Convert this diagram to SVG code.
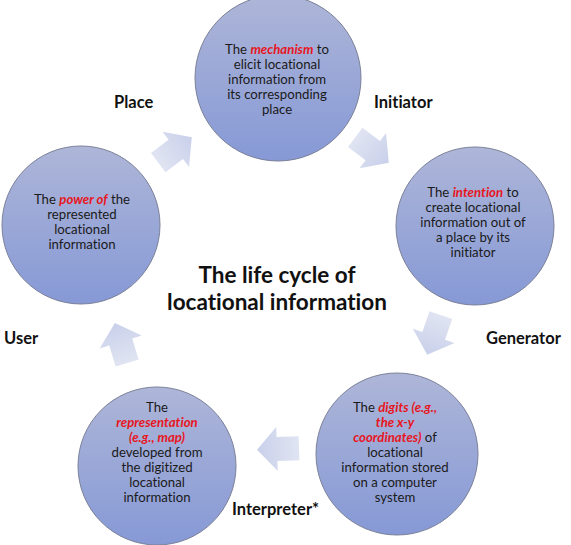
<svg xmlns="http://www.w3.org/2000/svg" xmlns:xlink="http://www.w3.org/1999/xlink" width="571" height="545" viewBox="0 0 571 545">
<style>
text{font-variant-ligatures:none;font-feature-settings:"liga" 0,"dlig" 0}
.node{fill:url(#cg);stroke:#7b8198;stroke-width:1}
.t{font-family:Lato,"Open Sans","DejaVu Sans",sans-serif;font-size:13.2px;fill:#1a1a1a;text-anchor:middle}
.r{fill:#e8161e;font-weight:bold;font-style:italic}
.lab{font-family:Lato,"Open Sans","DejaVu Sans",sans-serif;font-size:16.5px;font-weight:bold;fill:#111}
.title{font-family:Lato,"Open Sans","DejaVu Sans",sans-serif;font-size:22.5px;font-weight:bold;fill:#111;text-anchor:middle}
.arrow{fill:url(#ag)}
</style>
<defs>
<linearGradient id="cg" x1="0" y1="0" x2="0" y2="1">
<stop offset="0" stop-color="#aeb6d8"/>
<stop offset="1" stop-color="#8699d6"/>
</linearGradient>
<linearGradient id="ag" x1="0" y1="0" x2="1" y2="0">
<stop offset="0" stop-color="#e0e4f2"/>
<stop offset="1" stop-color="#c9d0ea"/>
</linearGradient>
<path id="arr" d="M-21,-12 H1 V-22 L21,0 L1,22 V12 H-21 Z"/>
</defs>
<rect width="571" height="545" fill="#fff"/>
<g id="connectors">
<use xlink:href="#arr" class="arrow" transform="translate(175,150) rotate(-37)"/>
<use xlink:href="#arr" class="arrow" transform="translate(372,150) rotate(37)"/>
<use xlink:href="#arr" class="arrow" transform="translate(434,335) rotate(109)"/>
<use xlink:href="#arr" class="arrow" transform="translate(278,449) rotate(178)"/>
<use xlink:href="#arr" class="arrow" transform="translate(121,343) rotate(-107)"/>
</g>
<g id="node-mechanism">
<circle class="node" cx="278" cy="78" r="83"/>
<text class="t" x="277" y="54">The <tspan class="r">mechanism</tspan> to</text>
<text class="t" x="277" y="69">elicit locational</text>
<text class="t" x="277" y="84">information from</text>
<text class="t" x="277" y="99">its corresponding</text>
<text class="t" x="277" y="114">place</text>
</g>
<g id="node-intention">
<circle class="node" cx="475" cy="226" r="79"/>
<text class="t" x="473" y="197">The <tspan class="r">intention</tspan> to</text>
<text class="t" x="473" y="212">create locational</text>
<text class="t" x="473" y="227">information out of</text>
<text class="t" x="473" y="242">a place by its</text>
<text class="t" x="473" y="257">initiator</text>
</g>
<g id="node-digits">
<circle class="node" cx="397" cy="454" r="81"/>
<text class="t" x="395" y="412">The <tspan class="r">digits (e.g.,</tspan></text>
<text class="t" x="395" y="427"><tspan class="r">the x-y</tspan></text>
<text class="t" x="395" y="442"><tspan class="r">coordinates)</tspan> of</text>
<text class="t" x="395" y="457">locational</text>
<text class="t" x="395" y="472">information stored</text>
<text class="t" x="395" y="487">on a computer</text>
<text class="t" x="395" y="502">system</text>
</g>
<g id="node-representation">
<circle class="node" cx="157" cy="466" r="79"/>
<text class="t" x="157" y="412">The</text>
<text class="t" x="157" y="427"><tspan class="r">representation</tspan></text>
<text class="t" x="157" y="442"><tspan class="r">(e.g., map)</tspan></text>
<text class="t" x="157" y="457">developed from</text>
<text class="t" x="157" y="472">the digitized</text>
<text class="t" x="157" y="487">locational</text>
<text class="t" x="157" y="502">information</text>
</g>
<g id="node-power">
<circle class="node" cx="81" cy="225" r="79"/>
<text class="t" x="82" y="204">The <tspan class="r">power of</tspan> the</text>
<text class="t" x="82" y="219">represented</text>
<text class="t" x="82" y="234">locational</text>
<text class="t" x="82" y="249">information</text>
</g>
<g id="labels">
<text class="lab" x="114" y="108">Place</text>
<text class="lab" x="374" y="108">Initiator</text>
<text class="lab" x="486" y="344">Generator</text>
<text class="lab" x="4" y="344">User</text>
<text class="lab" x="232" y="515">Interpreter*</text>
</g>
<g id="title">
<text class="title" x="277" y="283">The life cycle of</text>
<text class="title" x="277" y="310">locational information</text>
</g>
</svg>
